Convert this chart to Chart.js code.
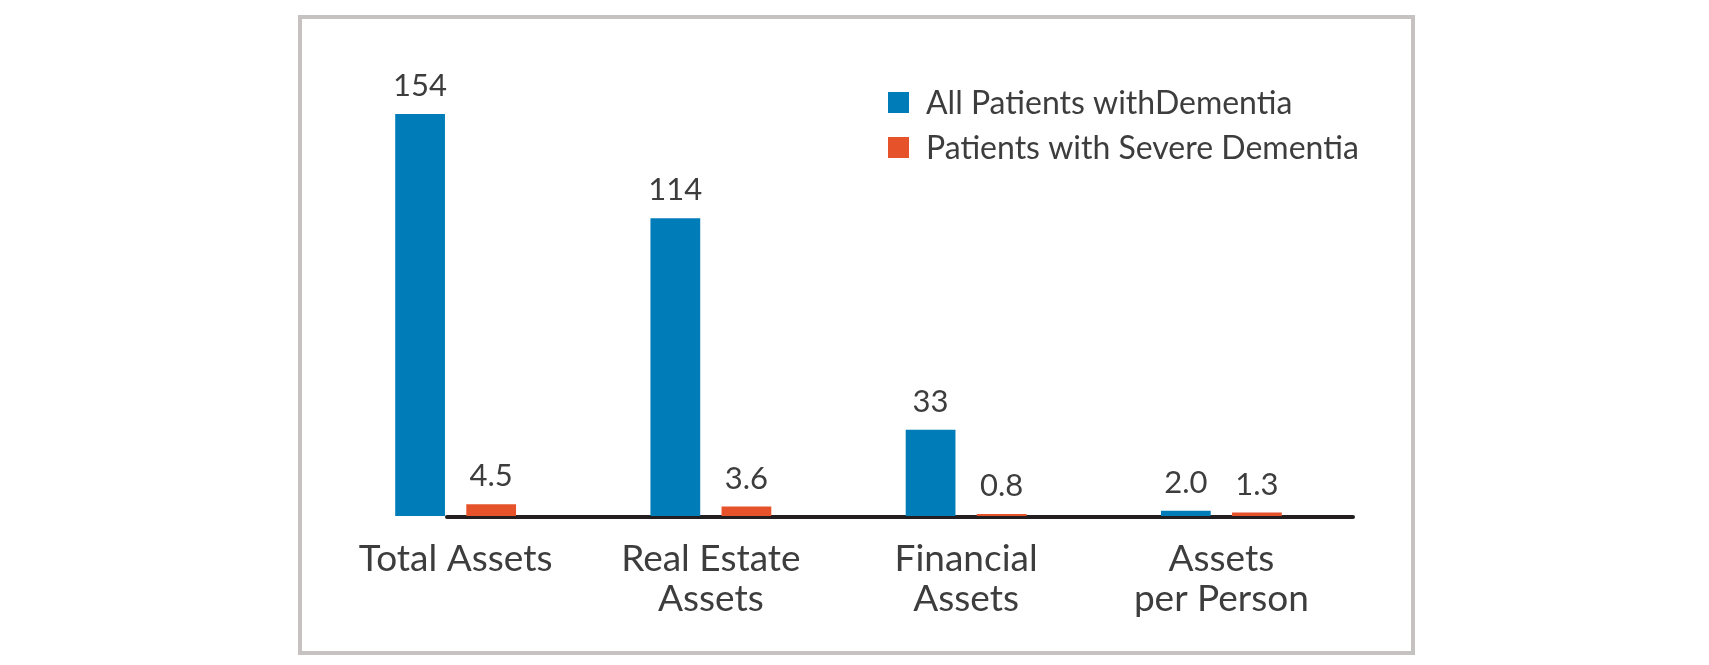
<!DOCTYPE html>
<html>
<head>
<meta charset="utf-8">
<script src="https://cdn.jsdelivr.net/npm/chart.js@4.4.1/dist/chart.umd.min.js"></script>
<style>
  body { margin: 0; background: #fff; }
  #wrap { position: relative; width: 1709px; height: 665px; }
  #frame {
    position: absolute; left: 298px; top: 15px; width: 1117px; height: 640px;
    border: 4px solid #c6c2c2; box-sizing: border-box;
  }
  canvas { position: absolute; left: 0; top: 0; }
</style>
</head>
<body>
<div id="wrap">
  <div id="frame"></div>
  <canvas id="chart"></canvas>
</div>
<script>
// Data
const categories = [['Total Assets'], ['Real Estate', 'Assets'], ['Financial', 'Assets'], ['Assets', 'per Person']];
const allPatients = [154, 114, 33, 2.0];
const severePatients = [4.5, 3.6, 0.8, 1.3];
const seriesNames = ['All Patients withDementia', 'Patients with Severe Dementia'];

const BLUE = '#007db8';
const ORANGE = '#e6532b';
const TEXT = '#3d3d3d';
const FONT = 'Lato, "Open Sans", sans-serif';

function fmt(v) {
    return v >= 10 ? String(Math.round(v)) : v.toFixed(1);
}

// value labels above the bars
const valueLabels = {
    id: 'valueLabels',
    afterDatasetsDraw(chart) {
        const ctx = chart.ctx;
        ctx.save();
        ctx.font = '31px ' + FONT;
        ctx.fillStyle = TEXT;
        ctx.textAlign = 'center';
        ctx.textBaseline = 'alphabetic';
        chart.data.datasets.forEach((ds, i) => {
            chart.getDatasetMeta(i).data.forEach((bar, j) => {
                ctx.fillText(fmt(ds.data[j]), bar.x, bar.y - 18);
            });
        });
        ctx.restore();
    }
};

// baseline: starts at the right edge of the first bar, like the original
const baseLine = {
    id: 'baseLine',
    beforeDatasetsDraw(chart) {
        const ctx = chart.ctx;
        const first = chart.getDatasetMeta(0).data[0];
        const y = chart.scales.y.getPixelForValue(0) + 1;
        ctx.save();
        ctx.strokeStyle = '#231f20';
        ctx.lineWidth = 4;
        ctx.lineCap = 'round';
        ctx.beginPath();
        ctx.moveTo(first.x + first.width / 2 + 2, y);
        ctx.lineTo(chart.chartArea.right + 4, y);
        ctx.stroke();
        ctx.restore();
    }
};

// legend in the top right of the plot
const boxLegend = {
    id: 'boxLegend',
    afterDraw(chart) {
        const ctx = chart.ctx;
        ctx.save();
        ctx.font = '32px ' + FONT;
        ctx.textBaseline = 'alphabetic';
        ctx.textAlign = 'left';
        chart.data.datasets.forEach((ds, i) => {
            const y = 114 + i * 45;
            ctx.fillStyle = ds.backgroundColor;
            ctx.fillRect(888, y - 22, 21, 21);
            ctx.fillStyle = TEXT;
            ctx.fillText(ds.label, 926, y);
        });
        ctx.restore();
    }
};

new Chart(document.getElementById('chart'), {
    type: 'bar',
    data: {
        labels: categories,
        datasets: [
            { label: seriesNames[0], data: allPatients, backgroundColor: BLUE },
            { label: seriesNames[1], data: severePatients, backgroundColor: ORANGE }
        ]
    },
    options: {
        responsive: true,
        maintainAspectRatio: false,
        animation: false,
        devicePixelRatio: 1,
        categoryPercentage: 0.557,
        barPercentage: 0.70,
        layout: { padding: { left: 328, right: 360, top: 46, bottom: 0 } },
        plugins: {
            legend: { display: false },
            tooltip: { enabled: false }
        },
        scales: {
            x: {
                grid: { display: false, drawTicks: false },
                border: { display: false },
                ticks: {
                    color: TEXT,
                    font: { family: FONT, size: 37, lineHeight: 1.08 },
                    padding: 23,
                    maxRotation: 0
                },
                afterFit(scale) { scale.height = 149; }
            },
            y: {
                display: false,
                min: 0,
                max: 180
            }
        }
    },
    plugins: [valueLabels, baseLine, boxLegend]
});
</script>
</body>
</html>
